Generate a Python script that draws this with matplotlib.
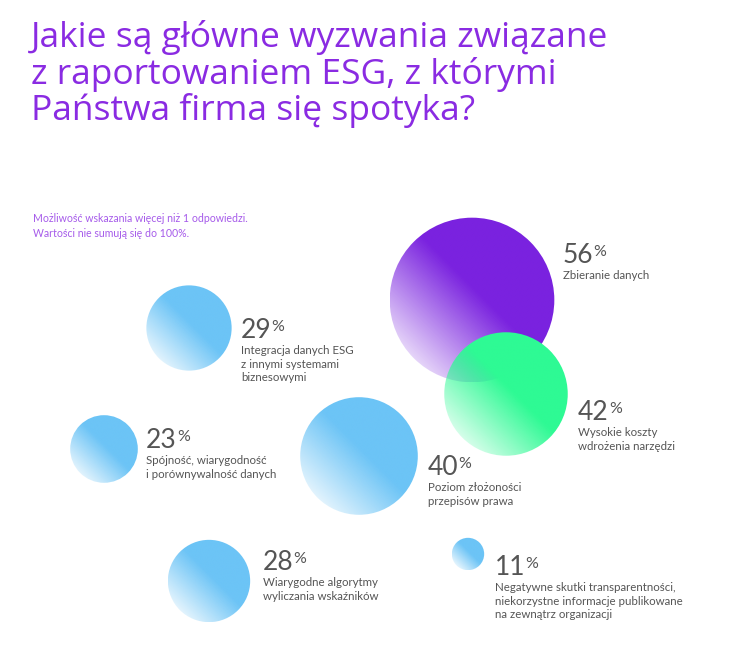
import numpy as np
import matplotlib.pyplot as plt
from matplotlib.patches import Circle
from matplotlib.colors import to_rgb

# dane z wykresu
values = [56, 42, 40, 29, 23, 28, 11]
labels = [
    "Zbieranie danych",
    "Wysokie koszty\nwdrożenia narzędzi",
    "Poziom złożoności\nprzepisów prawa",
    "Integracja danych ESG\nz innymi systemami\nbiznesowymi",
    "Spójność, wiarygodność\ni porównywalność danych",
    "Wiarygodne algorytmy\nwyliczania wskaźników",
    "Negatywne skutki transparentności,\nniekorzystne informacje publikowane\nna zewnątrz organizacji",
]
colors = ["#7A22DF", "#2EFA94", "#6CC4F6", "#6CC4F6", "#6CC4F6", "#6CC4F6", "#6CC4F6"]

title_lines = ["Jakie są główne wyzwania związane",
               "z raportowaniem ESG, z którymi",
               "Państwa firma się spotyka?"]
note_lines = ["Możliwość wskazania więcej niż 1 odpowiedzi.",
              "Wartości nie sumują się do 100%."]

# układ (w pikselach, oś y w dół)
centers = [(472, 300), (506, 394), (359, 456), (189, 328), (104, 449), (209, 581), (468, 554)]
text_pos = [(563, 263), (578, 420), (428, 475), (241, 338), (146, 448), (263, 570), (495, 575)]
px_per_pct = 1.47

W, H = 750, 668
FONT = "Lato"

fig = plt.figure(figsize=(W / 100, H / 100), dpi=100)
ax = fig.add_axes([0, 0, 1, 1])
ax.set_xlim(0, W)
ax.set_ylim(H, 0)
ax.axis("off")

# gradient: pełny kolor u góry po prawej, jaśniej u dołu po lewej
n = 240
g = np.linspace(-1, 1, n)
gx, gy = np.meshgrid(g, g)
t = (gx - gy) / (2 * np.sqrt(2)) + 0.5  # 0 dół-lewo, 1 góra-prawo (y w dół)
alpha = np.clip(0.2 + 0.8 * (t / 0.55), 0, 1)

for (cx, cy), v, c in zip(centers, values, colors):
    r = v * px_per_pct
    img = np.zeros((n, n, 4))
    img[..., :3] = to_rgb(c)
    img[..., 3] = alpha
    im = ax.imshow(img, extent=(cx - r, cx + r, cy + r, cy - r), interpolation="bilinear", zorder=2)
    clip = Circle((cx, cy), r, transform=ax.transData)
    im.set_clip_path(clip)

ax.set_xlim(0, W)
ax.set_ylim(H, 0)

for i, line in enumerate(title_lines):
    ax.text(31, 47 + i * 36.5, line, fontsize=25.5, color="#8A2BE2", family="Open Sans", va="baseline")

for i, line in enumerate(note_lines):
    ax.text(33, 222 + i * 15, line, fontsize=7.6, color="#A65BEA", family=FONT, va="baseline")

fig.canvas.draw()
renderer = fig.canvas.get_renderer()
inv = ax.transData.inverted()
for (tx, ty), v, lab in zip(text_pos, values, labels):
    num = ax.text(tx, ty, str(v), fontsize=19, color="#555555", family=FONT,
                  va="baseline", zorder=3)
    bb = num.get_window_extent(renderer)
    x1, y1 = inv.transform((bb.x1, bb.y1))
    ax.text(x1, ty - 7, "%", fontsize=11.5, color="#555555", family=FONT,
            va="baseline", zorder=3)
    ax.text(tx, ty + 7, lab, fontsize=8.3, color="#555555", family=FONT,
            va="top", linespacing=1.3, zorder=3)

fig.savefig("out.png", dpi=100)
